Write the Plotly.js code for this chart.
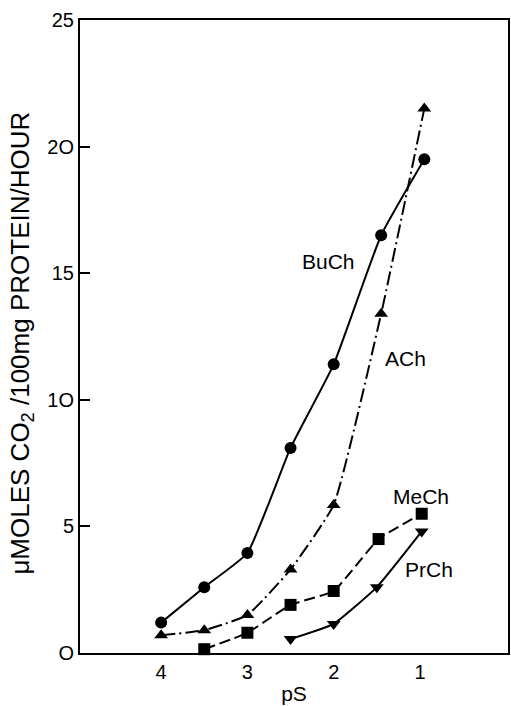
<!DOCTYPE html>
<html><head><meta charset="utf-8">
<script src="https://cdn.plot.ly/plotly-3.0.1.min.js"></script>
<style>html,body{margin:0;padding:0;background:#fff}#c{width:511px;height:706px}</style>
</head><body><div id="c"></div>
<script>
const buchX = [4, 3.5, 3, 2.5, 2, 1.45, 0.95];
const buchY = [1.2, 2.6, 3.95, 8.1, 11.4, 16.5, 19.5];
const achX = [4, 3.5, 3, 2.5, 2, 1.45, 0.95];
const achY = [0.7, 0.9, 1.5, 3.3, 5.85, 13.4, 21.5];
const mechX = [3.5, 3, 2.5, 2, 1.48, 0.98];
const mechY = [0.15, 0.8, 1.9, 2.45, 4.5, 5.5];
const prchX = [2.5, 2, 1.5, 0.98];
const prchY = [0.55, 1.15, 2.6, 4.8];
const yTickVals = [0, 5, 10, 15, 20, 25];
const yTickText = ['O', '5', '1O', '15', '2O', '25'];
const xTickVals = [4, 3, 2, 1];
const xTickText = ['4', '3', '2', '1'];
const yTitle = 'μMOLES CO<sub>2</sub> /100mg PROTEIN/HOUR';
const labels = [
  {text: 'BuCh', x: 2.06, y: 15.45},
  {text: 'ACh', x: 1.17, y: 11.65},
  {text: 'MeCh', x: 0.99, y: 6.2},
  {text: 'PrCh', x: 0.9, y: 3.3}
];
const F = 'Liberation Sans, Arial, sans-serif';
function tr(x, y, sym, dash) {
  return {x: x, y: y, mode: 'lines+markers', type: 'scatter', cliponaxis: false,
    line: {color: '#000', width: 2, dash: dash, shape: 'spline', smoothing: 0.4},
    marker: {symbol: sym, size: 12, color: '#000'}};
}
const data = [
  tr(buchX, buchY, 'circle', 'solid'),
  tr(achX, achY, 'triangle-up', '14px,4px,2px,4px'),
  tr(mechX, mechY, 'square', '11px,5px'),
  tr(prchX, prchY, 'triangle-down', 'solid')
];
const ann = labels.map(l => ({text: l.text, x: l.x, y: l.y, xref: 'x', yref: 'y',
    showarrow: false, font: {size: 21, family: F}}));
ann.push({text: yTitle, xref: 'paper', yref: 'paper', x: -0.136, y: 0.49,
  xanchor: 'center', yanchor: 'middle', textangle: -90, showarrow: false,
  font: {size: 26, family: F}});
const layout = {
  width: 511, height: 706, showlegend: false,
  paper_bgcolor: '#fff', plot_bgcolor: '#fff',
  margin: {l: 80, r: 3, t: 20, b: 53},
  font: {family: F, color: '#000', size: 20},
  xaxis: {range: [4.94, -0.02], showgrid: false, zeroline: false,
    showline: true, mirror: true, linecolor: '#000', linewidth: 2,
    tickvals: xTickVals, ticktext: xTickText, ticks: '', ticklen: 0,
    tickfont: {size: 20, family: F},
    title: {text: 'pS', font: {size: 21, family: F}, standoff: 4}},
  yaxis: {range: [0, 25], showgrid: false, zeroline: false,
    showline: true, mirror: true, linecolor: '#000', linewidth: 2,
    tickvals: yTickVals, ticktext: yTickText, ticks: 'inside', ticklen: 10, tickwidth: 2, tickcolor: '#000',
    tickfont: {size: 20, family: F}},
  annotations: ann
};
Plotly.newPlot('c', data, layout, {staticPlot: true});
</script></body></html>
